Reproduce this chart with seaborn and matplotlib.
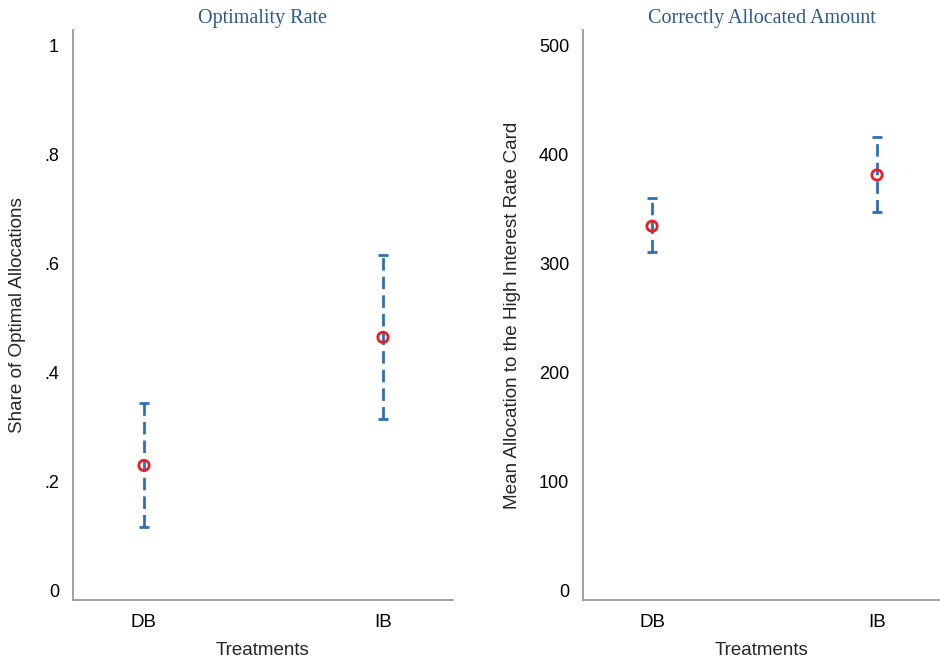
import matplotlib
matplotlib.use("Agg")
import matplotlib.pyplot as plt
import seaborn as sns
import pandas as pd

treatments = ["DB", "IB"]
opt_mean = [0.229, 0.464]
opt_lo = [0.116, 0.314]
opt_hi = [0.343, 0.615]
amt_mean = [334, 381]
amt_lo = [310, 347]
amt_hi = [360, 416]

opt_ticks = [0, 0.2, 0.4, 0.6, 0.8, 1.0]
opt_ticklabels = ["0", ".2", ".4", ".6", ".8", "1"]
amt_ticks = [0, 100, 200, 300, 400, 500]
amt_ticklabels = ["0", "100", "200", "300", "400", "500"]

sns.set_style("white")
plt.rcParams["font.family"] = ["Liberation Sans", "DejaVu Sans"]

fig = plt.figure(figsize=(9.4, 6.64), dpi=100)
ax1 = fig.add_axes([73 / 940, 64 / 664, 380 / 940, 570 / 664])
ax2 = fig.add_axes([583 / 940, 64 / 664, 357 / 940, 570 / 664])

blue = "#2e6fb7"
red = "#ee1c24"
title_col = "#2b5a8c"
spine_col = "#9a9a9a"


def draw(ax, mean, lo, hi, ticks, ticklabels, ylabel, title, ylim, xlim):
    df = pd.DataFrame({"Treatments": treatments, "mean": mean, "lo": lo, "hi": hi})
    x = list(range(len(df)))
    yerr = [df["mean"] - df["lo"], df["hi"] - df["mean"]]
    eb = ax.errorbar(x, df["mean"], yerr=yerr, fmt="none", ecolor=blue,
                     elinewidth=2, capsize=3.6, capthick=2, zorder=2)
    for lc in eb[2]:
        lc.set_linestyle((0, (4.5, 2.2)))
    sns.scatterplot(x=x, y=df["mean"], ax=ax, marker="o", s=55,
                    facecolors="none", edgecolor=red, linewidth=2, zorder=3)
    ax.set_xticks(x)
    ax.set_xticklabels(treatments, fontsize=13.5)
    ax.set_yticks(ticks)
    ax.set_yticklabels(ticklabels, fontsize=13)
    ax.set_xlim(*xlim)
    ax.set_ylim(*ylim)
    ax.set_xlabel("Treatments", fontsize=13.5, labelpad=8)
    ax.set_ylabel(ylabel, fontsize=13.6, labelpad=13)
    ax.set_title(title, fontsize=14.5, color=title_col,
                 family=["Liberation Serif", "DejaVu Serif"], pad=5)
    ax.tick_params(axis="both", length=0, pad=10, colors="black")
    for s in ["top", "right"]:
        ax.spines[s].set_visible(False)
    for s in ["left", "bottom"]:
        ax.spines[s].set_color(spine_col)
        ax.spines[s].set_linewidth(1.3)
    ax.grid(False)


draw(ax1, opt_mean, opt_lo, opt_hi, opt_ticks, opt_ticklabels,
     "Share of Optimal Allocations", "Optimality Rate",
     (-0.018, 1.028), (-0.297, 1.293))
draw(ax2, amt_mean, amt_lo, amt_hi, amt_ticks, amt_ticklabels,
     "Mean Allocation to the High Interest Rate Card", "Correctly Allocated Amount",
     (-9, 514), (-0.307, 1.28))

fig.savefig("out.png", dpi=100)
